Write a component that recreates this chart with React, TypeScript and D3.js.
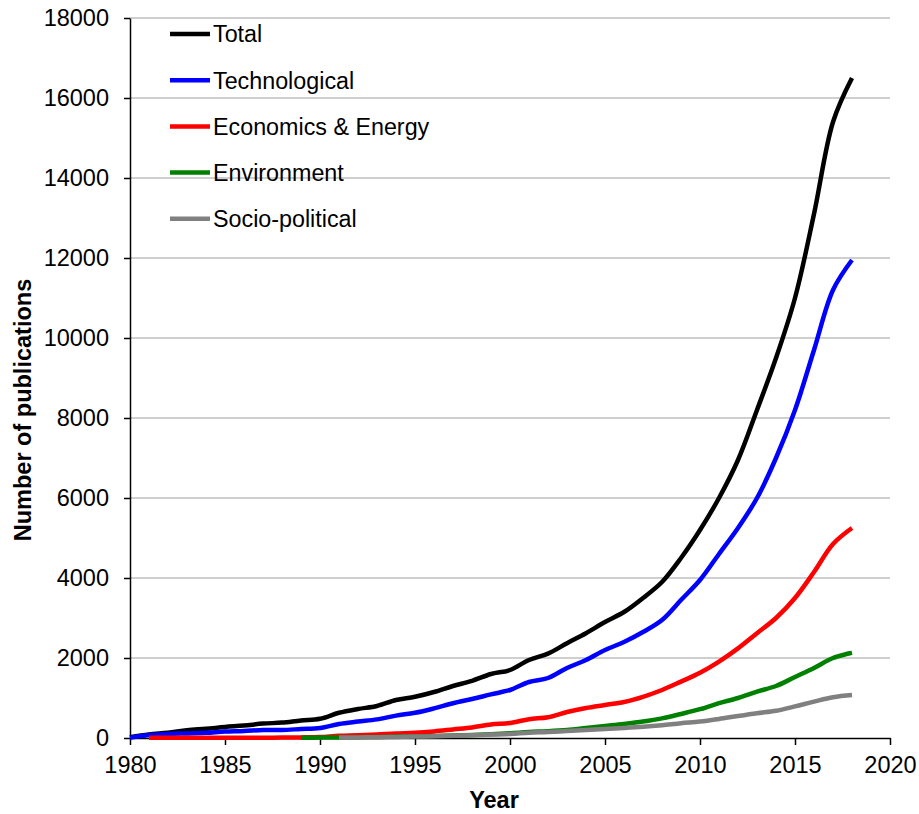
import React, { useRef, useEffect } from "react";
import * as d3 from "d3";

// years on the x axis
const years = d3.range(1980, 2019);

const total = [
  20, 90, 130, 195, 230, 275, 310, 360, 385, 440, 480, 630, 725, 800, 950, 1030, 1150, 1300, 1430, 1600, 1700,
  1950, 2110, 2370, 2620, 2900, 3150, 3500, 3900, 4500, 5200, 6000, 6950, 8200, 9500, 11000, 13100, 15400, 16500,
];
const technological = [
  10, 75, 100, 115, 130, 160, 175, 200, 200, 225, 250, 350, 410, 465, 560, 630, 740, 870, 975, 1090, 1200, 1400,
  1500, 1750, 1950, 2200, 2400, 2650, 2950, 3450, 3950, 4600, 5250, 6000, 7000, 8200, 9700, 11200, 11950,
];
const economics = [
  null, 5, 5, 5, 5, 5, 5, 8, 10, 15, 25, 55, 70, 90, 115, 130, 165, 215, 265, 340, 375, 470, 520, 650, 750, 825,
  900, 1030, 1200, 1410, 1630, 1910, 2240, 2620, 3000, 3500, 4150, 4850, 5250,
];
const environment = [
  null, null, null, null, null, null, null, null, null, 5, 10, 15, 20, 25, 35, 40, 50, 60, 75, 95, 120, 150, 170,
  200, 250, 300, 350, 410, 490, 600, 720, 870, 1000, 1160, 1300, 1525, 1750, 2000, 2130,
];
const socioPolitical = [
  null, null, null, null, null, null, null, null, null, null, null, 10, 15, 20, 25, 35, 45, 55, 70, 85, 100, 130,
  150, 175, 200, 225, 250, 280, 320, 370, 410, 475, 550, 620, 680, 790, 910, 1020, 1075,
];

const seriesNames = ["Total", "Technological", "Economics & Energy", "Environment", "Socio-political"];
const seriesColors = ["#000000", "#0000ff", "#ff0000", "#008000", "#808080"];
const seriesValues = [total, technological, economics, environment, socioPolitical];

const xTicks = [1980, 1985, 1990, 1995, 2000, 2005, 2010, 2015, 2020];
const yTicks = [0, 2000, 4000, 6000, 8000, 10000, 12000, 14000, 16000, 18000];

const FONT = "Arial, 'Liberation Sans', sans-serif";

const App: React.FC = () => {
  const svgRef = useRef<SVGSVGElement | null>(null);
  const width = 919;
  const height = 814;

  useEffect(() => {
    if (!svgRef.current) return;
    const svg = d3.select(svgRef.current);
    svg.selectAll("*").remove();

    const margin = { top: 18, right: 29, bottom: 76, left: 130 };
    const innerWidth = width - margin.left - margin.right;
    const innerHeight = height - margin.top - margin.bottom;

    const x = d3.scaleLinear().domain([1980, 2020]).range([0, innerWidth]);
    const y = d3.scaleLinear().domain([0, 18000]).range([innerHeight, 0]);

    const g = svg.append("g").attr("transform", `translate(${margin.left},${margin.top})`);

    // gridlines
    g.append("g")
      .selectAll("line")
      .data(yTicks.filter((d) => d > 0))
      .join("line")
      .attr("x1", 0)
      .attr("x2", innerWidth)
      .attr("y1", (d) => y(d))
      .attr("y2", (d) => y(d))
      .attr("stroke", "#bfbfbf")
      .attr("stroke-width", 1.5);

    // y axis
    const yAxis = g
      .append("g")
      .call(d3.axisLeft(y).tickValues(yTicks).tickFormat(d3.format("d")).tickSize(6).tickSizeOuter(0).tickPadding(15));
    yAxis.select(".domain").attr("stroke", "#000").attr("stroke-width", 1.5);
    yAxis.selectAll(".tick line").attr("stroke", "#000").attr("stroke-width", 1.5);
    yAxis.selectAll("text").attr("font-family", FONT).attr("font-size", 23.5).attr("fill", "#000");

    // x axis
    const xAxis = g
      .append("g")
      .attr("transform", `translate(0,${innerHeight})`)
      .call(d3.axisBottom(x).tickValues(xTicks).tickFormat(d3.format("d")).tickSize(7).tickSizeOuter(0).tickPadding(11));
    xAxis.select(".domain").attr("stroke", "#000").attr("stroke-width", 1.5);
    xAxis.selectAll(".tick line").attr("stroke", "#000").attr("stroke-width", 1.5);
    xAxis.selectAll("text").attr("font-family", FONT).attr("font-size", 23.5).attr("fill", "#000");

    // lines
    const line = d3
      .line<number | null>()
      .defined((d) => d !== null)
      .x((_, i) => x(years[i]))
      .y((d) => y(d as number))
      .curve(d3.curveCatmullRom.alpha(0.5));

    seriesValues.forEach((vals, i) => {
      g.append("path")
        .datum(vals)
        .attr("d", line)
        .attr("fill", "none")
        .attr("stroke", seriesColors[i])
        .attr("stroke-width", 4.5);
    });

    // axis titles
    svg
      .append("text")
      .attr("x", 494)
      .attr("y", 808)
      .attr("text-anchor", "middle")
      .attr("font-family", FONT)
      .attr("font-weight", "bold")
      .attr("font-size", 23.5)
      .text("Year");

    svg
      .append("text")
      .attr("transform", "translate(31,410) rotate(-90)")
      .attr("text-anchor", "middle")
      .attr("font-family", FONT)
      .attr("font-weight", "bold")
      .attr("font-size", 23.5)
      .text("Number of publications");

    // legend
    const legend = svg.append("g").attr("transform", "translate(170,34)");
    const items = legend
      .selectAll("g")
      .data(seriesNames)
      .join("g")
      .attr("transform", (_, i) => `translate(0,${i * 46.2})`);
    items
      .append("line")
      .attr("x1", 0)
      .attr("x2", 40)
      .attr("stroke", (_, i) => seriesColors[i])
      .attr("stroke-width", 4.5);
    items
      .append("text")
      .attr("x", 43)
      .attr("dy", "0.36em")
      .attr("font-family", FONT)
      .attr("font-size", 23.3)
      .text((d) => d);
  }, []);

  return (
    <svg
      ref={svgRef}
      width={width}
      height={height}
      style={{ position: "absolute", left: 0, top: 0, background: "#fff" }}
    ></svg>
  );
};

export default App;
